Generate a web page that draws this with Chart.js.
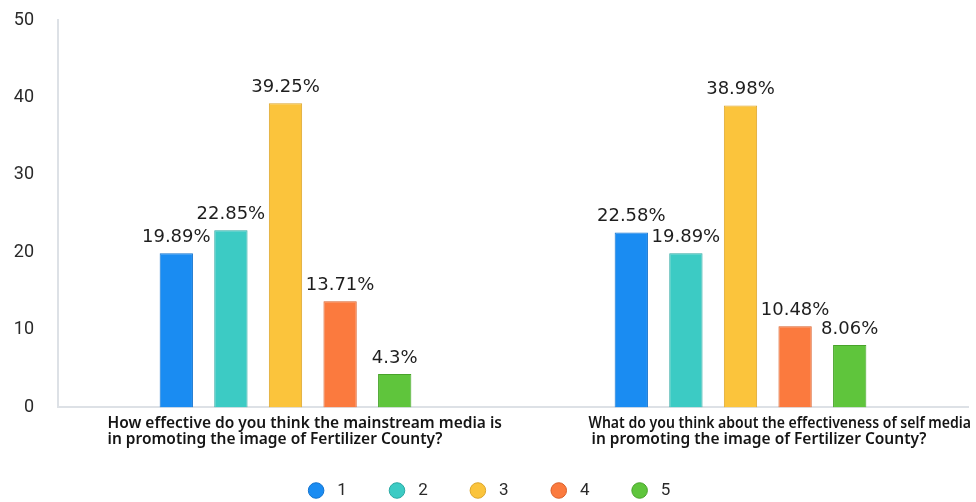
<!DOCTYPE html>
<html>
<head>
<meta charset="utf-8">
<script src="https://cdn.jsdelivr.net/npm/chart.js@4.4.0/dist/chart.umd.min.js"></script>
<style>
  html, body { margin: 0; padding: 0; background: #fff; }
  #wrap { width: 976px; height: 502px; position: relative; }
</style>
</head>
<body>
<div id="wrap"><canvas id="grafico"></canvas></div>
<script>
// perguntas (categorias) e respostas 1..5 em %
const perguntas = [
  ['How effective do you think the mainstream media is', 'in promoting the image of Fertilizer County?'],
  ['What do you think about the effectiveness of self media', 'in promoting the image of Fertilizer County?']
];
const notas = ['1', '2', '3', '4', '5'];
const resposta1 = [19.89, 22.58];
const resposta2 = [22.85, 19.89];
const resposta3 = [39.25, 38.98];
const resposta4 = [13.71, 10.48];
const resposta5 = [4.3, 8.06];
const ticksY = [0, 10, 20, 30, 40, 50];

const cores = ['#1a8cf2', '#3ccbc4', '#fbc43c', '#fb7a3e', '#5fc53c'];
const bordas = ['#1273cf', '#2aa8a2', '#dca52a', '#d95e28', '#48a32a'];
const valores = [resposta1, resposta2, resposta3, resposta4, resposta5];

// deslocamento do texto da pergunta em relação ao centro da categoria
const recuoPergunta = [-178, -152];

const rotulosValor = {
  id: 'rotulosValor',
  afterDatasetsDraw(chart) {
    const ctx = chart.ctx;
    ctx.save();
    ctx.font = '18px "DejaVu Sans"';
    ctx.fillStyle = '#1e1e1e';
    ctx.textAlign = 'center';
    ctx.textBaseline = 'bottom';
    chart.data.datasets.forEach((ds, i) => {
      chart.getDatasetMeta(i).data.forEach((bar, j) => {
        ctx.fillText(ds.data[j] + '%', bar.x, bar.y - 7);
      });
    });
    ctx.restore();
  }
};

const rotulosPergunta = {
  id: 'rotulosPergunta',
  afterDraw(chart) {
    const ctx = chart.ctx;
    const x = chart.scales.x;
    ctx.save();
    ctx.font = '600 15.5px "Noto Sans"';
    ctx.fillStyle = '#151515';
    ctx.textAlign = 'left';
    ctx.textBaseline = 'alphabetic';
    perguntas.forEach((linhas, i) => {
      const px = x.getPixelForValue(i) + recuoPergunta[i];
      linhas.forEach((linha, k) => {
        const lx = px + (i === 1 && k === 1 ? 3 : 0);
        // não deixa o texto passar da borda do canvas
        ctx.fillText(linha, lx, x.top + 21 + k * 16, chart.width - 5 - lx);
      });
    });
    ctx.restore();
  }
};

const datasets = notas.map((n, i) => ({
  label: n,
  data: valores[i],
  backgroundColor: cores[i],
  borderColor: bordas[i],
  borderWidth: 1,
  categoryPercentage: 0.6,
  barPercentage: 0.61
}));

new Chart(document.getElementById('grafico'), {
  type: 'bar',
  data: { labels: perguntas.map(p => p.join(' ')), datasets: datasets },
  options: {
    responsive: true,
    maintainAspectRatio: false,
    animation: false,
    layout: { padding: { top: 20, left: 10, right: 8, bottom: -7 } },
    scales: {
      x: {
        grid: { display: false },
        border: { color: '#dde1e6', width: 2 },
        ticks: { display: false },
        afterFit(scale) { scale.height = 33; }
      },
      y: {
        min: 0,
        max: 50,
        afterBuildTicks(scale) { scale.ticks = ticksY.map(v => ({ value: v })); },
        afterFit(scale) {
          scale.width = 48;
          scale.paddingTop = 10;
          scale.paddingBottom = 10;
        },
        grid: { display: false, drawTicks: false },
        border: { color: '#dde1e6', width: 2 },
        ticks: {
          padding: 24,
          color: '#2a2a2a',
          font: { family: 'Roboto', size: 18 }
        }
      }
    },
    plugins: {
      tooltip: { enabled: false },
      legend: {
        position: 'bottom',
        labels: {
          usePointStyle: true,
          pointStyle: 'circle',
          boxWidth: 17,
          boxHeight: 11,
          padding: 41.6,
          color: '#2a2a2a',
          font: { family: 'Roboto', size: 17 },
          generateLabels(chart) {
            const itens = Chart.defaults.plugins.legend.labels.generateLabels(chart);
            itens.forEach(it => { it.text = ' ' + it.text; });
            return itens;
          }
        }
      }
    }
  },
  plugins: [rotulosValor, rotulosPergunta]
});
</script>
</body>
</html>
